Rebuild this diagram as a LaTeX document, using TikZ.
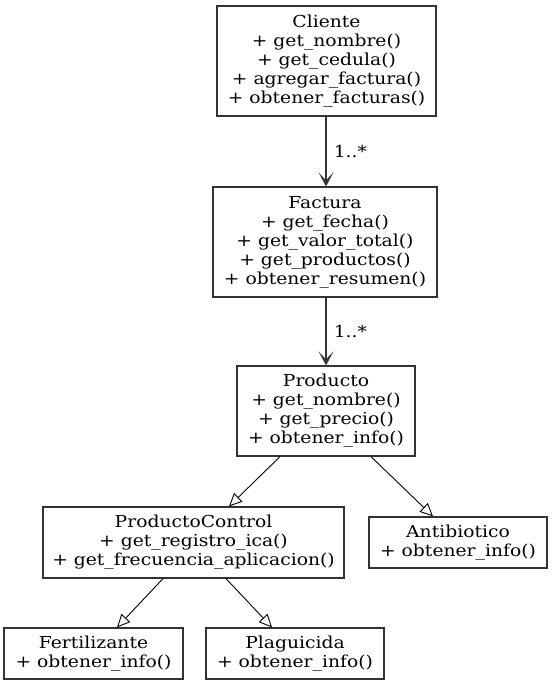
\documentclass[tikz,border=0pt]{standalone}
\usepackage{fontspec}
\setmainfont{DejaVu Serif}[FakeStretch=1.135]
\usetikzlibrary{arrows.meta,calc}
\definecolor{edge}{HTML}{333333}
\tikzset{
  cls/.style={draw=edge, line width=1.2pt, rectangle, align=center, inner sep=0pt,
    font=\fontsize{16.5}{19}\selectfont},
  assoc/.style={draw=edge, line width=1.6pt, -{Stealth[length=14pt,width=15pt,inset=8pt]}},
  inh/.style={draw=black, line width=0.9pt, -{Triangle[open,fill=white,length=13pt,width=12pt]}},
  mult/.style={font=\fontsize{16.5}{19}\selectfont, anchor=west, inner sep=0pt},
}
\begin{document}
\begin{tikzpicture}[x=1pt,y=-1pt]
\useasboundingbox (0,0) rectangle (552,685);
\node[cls, minimum width=219pt, minimum height=110pt] (cli) at (326.5,61)
  {Cliente\\+ get\_nombre()\\+ get\_cedula()\\+ agregar\_factura()\\+ obtener\_facturas()};
\node[cls, minimum width=224pt, minimum height=110pt] (fac) at (325,242)
  {Factura\\+ get\_fecha()\\+ get\_valor\_total()\\+ get\_productos()\\+ obtener\_resumen()};
\node[cls, minimum width=178pt, minimum height=90pt] (prod) at (326,411)
  {Producto\\+ get\_nombre()\\+ get\_precio()\\+ obtener\_info()};
\node[cls, minimum width=301pt, minimum height=71pt] (pc) at (193.5,542.5)
  {ProductoControl\\+ get\_registro\_ica()\\+ get\_frecuencia\_aplicacion()};
\node[cls, minimum width=178pt, minimum height=51pt] (anti) at (458,542.5)
  {Antibiotico\\+ obtener\_info()};
\node[cls, minimum width=179pt, minimum height=51pt] (fert) at (93.5,653.5)
  {Fertilizante\\+ obtener\_info()};
\node[cls, minimum width=178pt, minimum height=51pt] (plag) at (295,653.5)
  {Plaguicida\\+ obtener\_info()};

\draw[assoc] (cli.south -| 326,0) -- (fac.north -| 326,0)
  node[mult, midway, xshift=7pt] (m1) {1..*};
\draw[assoc] (fac.south -| 326,0) -- (prod.north -| 326,0)
  node[mult, midway, xshift=7pt] (m2) {1..*};

\draw[inh] ($(prod.south)+(-46,0)$) -- ($(pc.north)+(35.5,0)$);
\draw[inh] ($(prod.south)+(45,0)$) -- ($(anti.north)+(-25,0)$);
\draw[inh] ($(pc.south)+(-30.5,0)$) -- ($(fert.north)+(23.5,0)$);
\draw[inh] ($(pc.south)+(32.5,0)$) -- ($(plag.north)+(-23,0)$);
\end{tikzpicture}
\end{document}
